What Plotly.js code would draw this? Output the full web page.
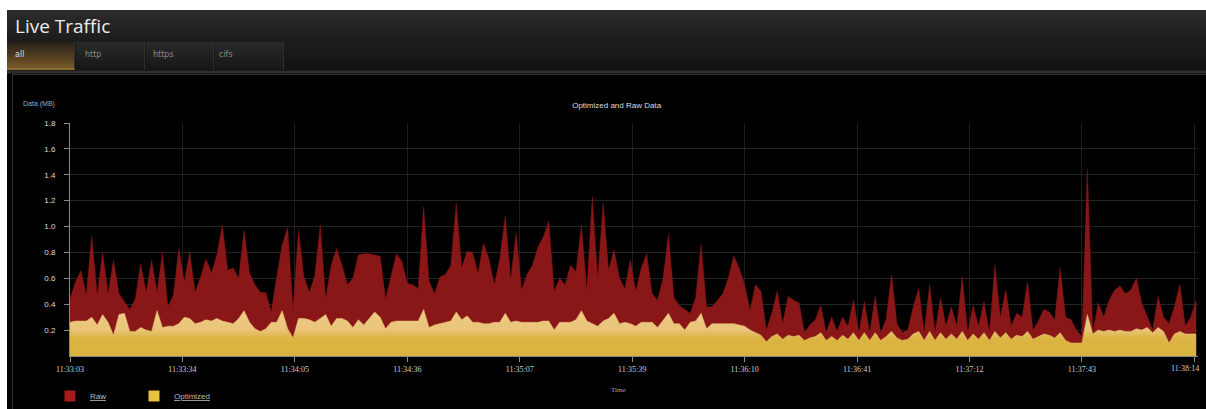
<!DOCTYPE html>
<html><head><meta charset="utf-8">
<script src="https://cdn.plot.ly/plotly-3.0.1.min.js"></script>
<style>
html,body{margin:0;padding:0;background:#fff;width:1206px;height:409px;overflow:hidden;}
#panel{position:absolute;left:7px;top:10px;width:1199px;height:399px;background:#000;}
#hdr{position:absolute;left:0;top:0;width:1199px;height:32px;background:linear-gradient(#2c2c2c,#1b1b1b);}
#hdr span{position:absolute;left:8px;top:3px;font:19px "Open Sans",sans-serif;color:#ececec;}
#tabs{position:absolute;left:0;top:32px;width:1199px;height:28px;background:linear-gradient(#1d1d1d,#121212);}
.tab{position:absolute;top:0;height:28px;background:linear-gradient(#2a2a2a,#161616);border-right:1px solid #303030;font:8px "DejaVu Sans",sans-serif;color:#8a8a8a;box-sizing:border-box;}
.tab span{position:absolute;top:8px;}
.tab.on{background:linear-gradient(#262018,#5e4622 70%,#7a5a2a);border-bottom:2px solid #8c6c36;color:#ddd;}
#sep{position:absolute;left:0;top:60px;width:1199px;height:4px;background:linear-gradient(#111,#3a3a3a,#111);}
#box{position:absolute;left:5px;top:64px;width:1194px;height:335px;border-left:1px solid #2e2e2e;border-top:1px solid #2e2e2e;box-sizing:border-box;}
#chart{position:absolute;left:13px;top:75px;width:1193px;height:334px;}
</style></head>
<body>
<div id="panel">
  <div id="hdr"><span>Live Traffic</span></div>
  <div id="tabs">
    <div class="tab on" style="left:0;width:68px;"><span style="left:8px;">all</span></div>
    <div class="tab" style="left:69px;width:69px;"><span style="left:9px;">http</span></div>
    <div class="tab" style="left:139px;width:68px;"><span style="left:7px;">https</span></div>
    <div class="tab" style="left:208px;width:69px;"><span style="left:4px;">cifs</span></div>
  </div>
  <div id="sep"></div>
  <div id="box"></div>
</div>
<div id="chart"></div>
<script>
// sampling period of the traffic series, in seconds from 11:33:03
var sampleStep = 1.5;

// Raw data (MB)
var rawMB = [0.44,0.57,0.66,0.47,0.93,0.47,0.8,0.48,0.74,0.48,
0.42,0.36,0.44,0.71,0.49,0.74,0.49,0.8,0.38,0.47,
0.83,0.57,0.8,0.49,0.61,0.75,0.64,0.78,1.01,0.66,
0.68,0.6,0.97,0.64,0.55,0.49,0.49,0.34,0.61,0.86,
0.99,0.36,0.97,0.61,0.49,0.62,1.01,0.44,0.7,0.83,
0.7,0.55,0.6,0.78,0.79,0.79,0.78,0.77,0.44,0.62,
0.79,0.73,0.56,
0.55,0.52,1.15,0.58,0.48,0.61,0.63,0.7,1.18,0.68,
0.81,0.8,0.64,0.87,0.75,0.55,0.75,1.08,0.59,0.95,
0.51,0.63,0.7,0.84,0.92,1.04,0.5,0.6,0.55,0.7,
0.65,1.01,0.5,1.23,0.6,1.18,0.66,0.82,0.6,0.52,
0.74,0.5,0.68,0.79,0.48,0.43,0.6,0.94,0.45,0.39,
0.36,0.33,0.45,0.86,0.38,0.38,0.43,0.48,0.6,0.77,
0.68,0.55,0.35,
0.55,0.5,0.2,0.33,0.5,0.25,0.46,0.43,0.41,0.18,
0.24,0.28,0.39,0.18,0.3,0.19,0.3,0.23,0.43,0.18,
0.42,0.18,0.46,0.18,0.28,0.63,0.25,0.18,0.2,0.38,
0.52,0.18,0.55,0.18,0.45,0.23,0.38,0.23,0.61,0.18,
0.39,0.23,0.42,0.18,0.7,0.3,0.51,0.23,0.33,0.3,
0.57,0.2,0.27,0.36,0.34,0.28,0.68,0.3,0.28,0.2,
0.15,1.44,0.18,0.41,0.3,0.43,0.51,0.54,0.48,0.51,
0.6,0.41,0.3,0.2,0.46,0.3,0.25,0.38,0.55,0.23,
0.3,0.43];

// Optimized data (MB)
var optimizedMB = [0.26,0.27,0.27,0.27,0.3,0.24,0.32,0.26,0.16,0.32,
0.33,0.19,0.19,0.22,0.2,0.19,0.35,0.22,0.23,0.23,
0.25,0.3,0.29,0.25,0.26,0.28,0.27,0.29,0.27,0.26,
0.25,0.29,0.35,0.26,0.21,0.19,0.21,0.26,0.26,0.35,
0.21,0.14,0.29,0.29,0.28,0.26,0.29,0.32,0.23,0.29,
0.29,0.27,0.22,0.28,0.24,0.29,0.34,0.3,0.21,0.26,
0.27,0.27,0.27,
0.27,0.27,0.36,0.22,0.24,0.25,0.26,0.27,0.34,0.28,
0.31,0.26,0.26,0.25,0.25,0.26,0.26,0.33,0.26,0.27,
0.26,0.26,0.26,0.26,0.27,0.27,0.2,0.26,0.26,0.26,
0.28,0.35,0.27,0.25,0.23,0.27,0.29,0.33,0.25,0.26,
0.25,0.23,0.26,0.26,0.26,0.22,0.28,0.33,0.25,0.25,
0.2,0.26,0.27,0.33,0.21,0.25,0.25,0.25,0.25,0.25,
0.24,0.23,0.2,
0.18,0.16,0.11,0.15,0.17,0.13,0.16,0.15,0.16,0.12,
0.14,0.15,0.18,0.12,0.15,0.12,0.16,0.13,0.18,0.12,
0.18,0.12,0.18,0.12,0.15,0.19,0.14,0.12,0.13,0.17,
0.19,0.12,0.19,0.12,0.18,0.13,0.17,0.13,0.19,0.12,
0.17,0.13,0.18,0.12,0.19,0.14,0.18,0.13,0.16,0.15,
0.19,0.13,0.15,0.17,0.16,0.14,0.18,0.12,0.1,0.1,
0.1,0.32,0.17,0.2,0.19,0.2,0.19,0.2,0.19,0.19,
0.21,0.2,0.22,0.18,0.22,0.19,0.1,0.17,0.19,0.17,
0.17,0.17];

// x-axis ticks (seconds after 11:33:03) and their labels
var tickSeconds = [0,31,62,93,124,155,186,217,248,279,310];
var tickLabels = ['11:33:03','11:33:34','11:34:05','11:34:36','11:35:07','11:35:39','11:36:10','11:36:41','11:37:12','11:37:43','11:38:14'];
// y-axis ticks
var yTicks = [0.2,0.4,0.6,0.8,1.0,1.2,1.4,1.6,1.8];

var seconds = rawMB.map(function(_, i){ return i * sampleStep; });
var lastIdx = tickLabels.length - 1;
// the last label is drawn as an annotation, nudged left so it stays inside the window
var tickText = tickLabels.map(function(t, i){ return i === lastIdx ? '' : t; });

var rawColor = '#8a1717';
var traces = [
  {x: seconds, y: rawMB, type: 'scatter', mode: 'lines', fill: 'tozeroy',
   line: {width: 0.5, color: rawColor}, fillcolor: rawColor,
   showlegend: false, hoverinfo: 'skip'},
  {x: seconds, y: optimizedMB, type: 'scatter', mode: 'lines', fill: 'tozeroy',
   line: {width: 0.5, color: '#e8c378'},
   fillgradient: {type: 'vertical', start: 0, stop: 0.3,
     colorscale: [[0, '#d9b23e'], [0.45, '#dcb443'], [0.68, '#e9c479'], [1, '#edc981']]},
   showlegend: false, hoverinfo: 'skip'},
  {x: [null], y: [null], type: 'scatter', mode: 'markers', name: '<u>Raw</u>',
   marker: {symbol: 'square', size: 11, color: '#a61c1c'}},
  {x: [null], y: [null], type: 'scatter', mode: 'markers', name: '<u>Optimized</u>',
   marker: {symbol: 'square', size: 11, color: '#e6c43e'}}
];

var layout = {
  width: 1193, height: 334,
  margin: {l: 57, r: 8, t: 48, b: 53},
  paper_bgcolor: '#000', plot_bgcolor: '#000',
  showlegend: true,
  title: {text: 'Optimized and Raw Data', font: {family: 'Liberation Sans', size: 8, color: '#dcdcdc'},
          xref: 'container', x: 0.506, xanchor: 'center', yref: 'container', y: 0.91, yanchor: 'middle'},
  xaxis: {range: [0, 311], tickmode: 'array', tickvals: tickSeconds, ticktext: tickText,
          tickfont: {family: 'Liberation Serif', size: 8, color: '#cfcfcf'},
          ticks: 'outside', ticklen: 5, tickcolor: '#8a8a8a',
          showline: true, linecolor: '#8a8a8a', linewidth: 1,
          showgrid: true, gridcolor: '#1e1e1e', zeroline: false, fixedrange: true},
  yaxis: {range: [0, 1.8], tickmode: 'array', tickvals: yTicks,
          ticktext: yTicks.map(function(v){ return v.toFixed(1); }),
          tickfont: {family: 'Liberation Sans', size: 8, color: '#dcdcdc'},
          ticks: 'outside', ticklen: 5, tickcolor: '#8a8a8a', ticklabelstandoff: 7,
          showline: true, linecolor: '#8a8a8a', linewidth: 1,
          showgrid: true, gridcolor: '#232323', zeroline: false, fixedrange: true},
  legend: {orientation: 'h', xref: 'container', x: 0.031, xanchor: 'left',
           yref: 'container', y: 0.039, yanchor: 'middle', entrywidth: 39,
           font: {family: 'Liberation Sans', size: 8, color: '#bdbdbd'}, bgcolor: 'rgba(0,0,0,0)'},
  annotations: [
    {text: 'Data (MB)', xref: 'paper', yref: 'paper', x: -0.0275, y: 1.082, xanchor: 'center', yanchor: 'middle',
     showarrow: false, font: {family: 'Liberation Sans', size: 7, color: '#a8a8a8'}},
    {text: 'Time', xref: 'paper', yref: 'paper', x: 0.486, y: -0.146, xanchor: 'center', yanchor: 'middle',
     showarrow: false, font: {family: 'Liberation Serif', size: 7, color: '#a8a8a8'}},
    {text: tickLabels[lastIdx], xref: 'x', yref: 'paper', x: tickSeconds[lastIdx], y: 0,
     xanchor: 'center', yanchor: 'top', xshift: -9, yshift: -6, showarrow: false,
     font: {family: 'Liberation Serif', size: 8, color: '#cfcfcf'}}
  ]
};

Plotly.newPlot('chart', traces, layout, {displayModeBar: false, staticPlot: true});
</script>
</body></html>
